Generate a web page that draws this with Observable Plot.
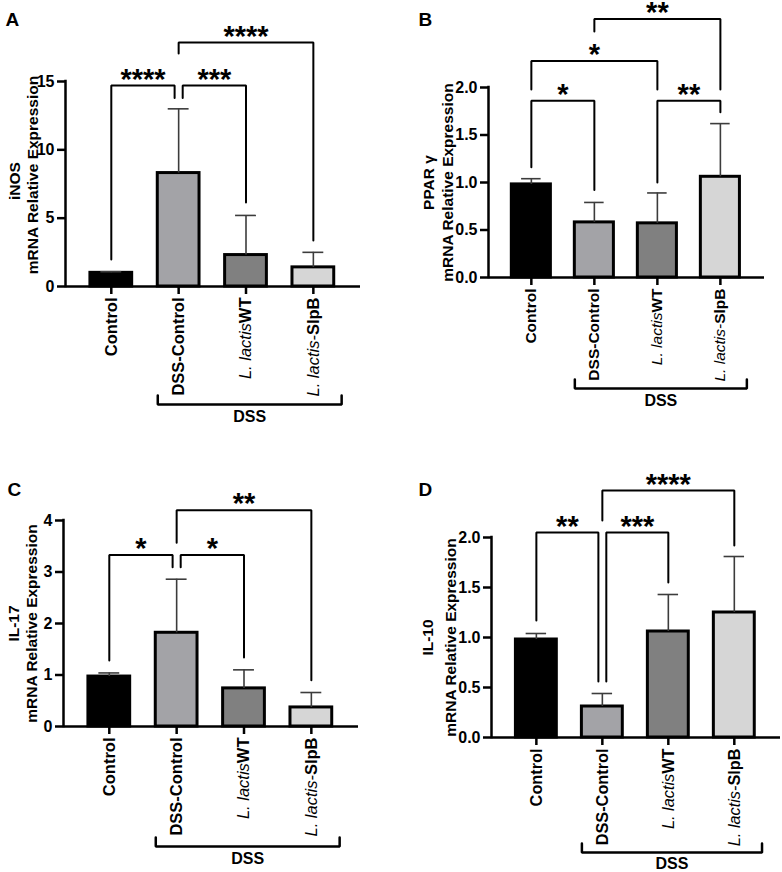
<!DOCTYPE html>
<html><head><meta charset="utf-8">
<script src="https://cdn.jsdelivr.net/npm/d3@7"></script>
<script src="https://cdn.jsdelivr.net/npm/@observablehq/plot@0.6"></script>
<style>
body{margin:0;background:#fff}
#wrap{position:relative;width:782px;height:872px;overflow:hidden;background:#fff}
#wrap svg{position:absolute;overflow:visible}
</style></head><body><div id="wrap"></div>
<script>
// ---- data ----
const groups = ["Control", "DSS-Control", "L. lactisWT", "L. lactis-SlpB"];
const dssGroups = ["DSS-Control", "L. lactisWT", "L. lactis-SlpB"];
const barFills = ["#000000", "#a3a3a7", "#808080", "#d6d6d6"];

const inosMean = [1.0, 8.3, 2.3, 1.4];
const inosSD   = [0.08, 4.7, 2.9, 1.1];
const pparMean = [0.98, 0.58, 0.57, 1.06];
const pparSD   = [0.06, 0.21, 0.32, 0.56];
const il17Mean = [0.97, 1.82, 0.74, 0.37];
const il17SD   = [0.07, 1.04, 0.36, 0.29];
const il10Mean = [0.98, 0.31, 1.06, 1.25];
const il10SD   = [0.06, 0.13, 0.37, 0.56];

const inosTicks = [0, 5, 10, 15];
const pparTicks = [0, 0.5, 1, 1.5, 2];
const il17Ticks = [0, 1, 2, 3, 4];
const il10Ticks = [0, 0.5, 1, 1.5, 2];

const inosSig = [
  {from: "Control", to: "DSS-Control", y: 14.7, legFrom: 1.98, legTo: 13.8, label: "****"},
  {from: "DSS-Control", to: "L. lactisWT", y: 14.7, legFrom: 13.8, legTo: 6.15, label: "***"},
  {from: "DSS-Control", to: "L. lactis-SlpB", y: 17.85, legFrom: 17.05, legTo: 3.36, label: "****"}
];
const pparSig = [
  {from: "Control", to: "DSS-Control", y: 1.86, legFrom: 1.16, legTo: 0.92, label: "*"},
  {from: "L. lactisWT", to: "L. lactis-SlpB", y: 1.86, legFrom: 1.0, legTo: 1.74, label: "**"},
  {from: "Control", to: "L. lactisWT", y: 2.28, legFrom: 1.98, legTo: 1.98, label: "*"},
  {from: "DSS-Control", to: "L. lactis-SlpB", y: 2.72, legFrom: 2.59, legTo: 1.98, label: "**"}
];
const il17Sig = [
  {from: "Control", to: "DSS-Control", y: 3.33, legFrom: 1.28, legTo: 3.09, label: "*"},
  {from: "DSS-Control", to: "L. lactisWT", y: 3.33, legFrom: 3.09, legTo: 1.34, label: "*"},
  {from: "DSS-Control", to: "L. lactis-SlpB", y: 4.2, legFrom: 3.57, legTo: 0.9, label: "**"}
];
const il10Sig = [
  {from: "Control", to: "DSS-Control", y: 2.05, legFrom: 1.17, legTo: 0.56, label: "**"},
  {from: "DSS-Control", to: "L. lactisWT", y: 2.05, legFrom: 0.56, legTo: 1.55, label: "***"},
  {from: "DSS-Control", to: "L. lactis-SlpB", y: 2.47, legFrom: 2.17, legTo: 1.92, label: "****"}
];

// ---- layout ----
const FONT = "'Liberation Sans', Arial, Helvetica, sans-serif";
const panels = [
  {letter: "A", gene: "iNOS", mean: inosMean, sd: inosSD, ticks: inosTicks, fmt: d3.format("d"), sig: inosSig,
   left: 0, top: 0, width: 391, height: 430, mt: 81, mb: 144, ml: 65, mr: 31, xFont: 16.5,
   geneDx: -50, geneDy: -3, mrnaDx: -32, mrnaDy: -9, letterDx: -60, letterDy: -69, dssDy: 118, dssTextDy: 12},
  {letter: "B", gene: "PPAR γ", mean: pparMean, sd: pparSD, ticks: pparTicks, fmt: d3.format(".1f"), sig: pparSig,
   left: 391, top: 0, width: 391, height: 430, mt: 87, mb: 153, ml: 97, mr: 18, xFont: 15.5,
   geneDx: -59, geneDy: 0, mrnaDx: -40, mrnaDy: 0, letterDx: -70, letterDy: -75, dssDy: 111, dssTextDy: 12},
  {letter: "C", gene: "IL-17", mean: il17Mean, sd: il17SD, ticks: il17Ticks, fmt: d3.format("d"), sig: il17Sig,
   left: 0, top: 430, width: 391, height: 442, mt: 90, mb: 146, ml: 63, mr: 33, xFont: 16.5,
   geneDx: -49, geneDy: 0, mrnaDx: -31, mrnaDy: 0, letterDx: -56, letterDy: -38, dssDy: 120, dssTextDy: 12},
  {letter: "D", gene: "IL-10", mean: il10Mean, sd: il10SD, ticks: il10Ticks, fmt: d3.format(".1f"), sig: il10Sig,
   left: 391, top: 430, width: 391, height: 442, mt: 107, mb: 135, ml: 100, mr: 2, xFont: 16.3,
   geneDx: -63, geneDy: 0, mrnaDx: -40, mrnaDy: 0, letterDx: -73, letterDy: -55, dssDy: 115, dssTextDy: 11}
];

const X_DOMAIN = [-0.68, 3.7];
const HALF_BAR = 0.31, HALF_CAP = 0.155, NUDGE = 0.06;

function bracketGeometry(sig) {
  const lines = [], labels = [];
  sig.forEach((b, k) => {
    const i = groups.indexOf(b.from), j = groups.indexOf(b.to);
    let ni = 0, nj = 0;
    sig.forEach((o, m) => {
      if (m === k || o.y !== b.y) return;
      if (groups.indexOf(o.to) === i) ni = NUDGE;
      if (groups.indexOf(o.from) === j) nj = -NUDGE;
    });
    const x1 = i + ni, x2 = j + nj;
    lines.push({k, x: x1, y: b.legFrom}, {k, x: x1, y: b.y}, {k, x: x2, y: b.y}, {k, x: x2, y: b.legTo});
    labels.push({x: (x1 + x2) / 2, y: b.y, label: b.label});
  });
  return {lines, labels};
}

const wrap = document.getElementById("wrap");
const ns = "http://www.w3.org/2000/svg";

for (const p of panels) {
  const rows = groups.map((g, i) => ({g, i, mean: p.mean[i], sd: p.sd[i], fill: barFills[i]}));
  const yMax = d3.max(p.ticks);
  const pxPerUnit = (p.height - p.mt - p.mb) / yMax;
  const {lines, labels} = bracketGeometry(p.sig);
  const dssIdx = dssGroups.map(g => groups.indexOf(g));
  const s = d3.min(dssIdx) - HALF_BAR, e = d3.max(dssIdx) + 0.42;
  const up = 9 / pxPerUnit;
  const dssLine = [{x: s, y: up}, {x: s, y: 0}, {x: e, y: 0}, {x: e, y: up}];

  const svg = Plot.plot({
    width: p.width, height: p.height,
    marginTop: p.mt, marginBottom: p.mb, marginLeft: p.ml, marginRight: p.mr,
    style: {fontFamily: FONT, fontWeight: "bold", fontSize: "16px", color: "#000", background: "transparent", overflow: "visible"},
    x: {type: "linear", domain: X_DOMAIN},
    y: {type: "linear", domain: [0, yMax]},
    color: {type: "identity"},
    marks: [
      Plot.ruleX([X_DOMAIN[0]], {y1: 0, y2: yMax, stroke: "#000", strokeWidth: 2.5, strokeLinecap: "square"}),
      Plot.axisY({ticks: p.ticks, tickFormat: p.fmt, tickSize: 8, tickPadding: 3, strokeWidth: 2.5, fontSize: 16, label: null, fill: "#000"}),
      Plot.axisX({ticks: [0, 1, 2, 3], tickFormat: i => groups[i], tickRotate: -90, tickSize: 8, tickPadding: 3,
                  strokeWidth: 2.5, fontSize: p.xFont, label: null, fill: "#000"}),
      Plot.rectY(rows, {x1: d => d.i - HALF_BAR, x2: d => d.i + HALF_BAR, y1: 0, y2: "mean", fill: "fill", stroke: "#000", strokeWidth: 3}),
      Plot.ruleY([0], {stroke: "#000", strokeWidth: 2.5}),
      Plot.ruleX(rows, {x: "i", y1: "mean", y2: d => d.mean + d.sd, stroke: "#3c3c3c", strokeWidth: 1.6}),
      Plot.ruleY(rows, {y: d => d.mean + d.sd, x1: d => d.i - HALF_CAP, x2: d => d.i + HALF_CAP, stroke: "#3c3c3c", strokeWidth: 1.6}),
      Plot.line(lines, {x: "x", y: "y", z: "k", stroke: "#000", strokeWidth: 2, strokeLinejoin: "miter"}),
      Plot.text(labels, {x: "x", y: "y", text: "label", fontSize: 29, fontWeight: "bold", lineAnchor: "bottom", dy: 3, fill: "#000"}),
      Plot.line(dssLine, {x: "x", y: "y", dy: p.dssDy, stroke: "#000", strokeWidth: 2.5, strokeLinejoin: "miter"}),
      Plot.text(["DSS"], {x: (s + e) / 2, y: 0, dy: p.dssDy + p.dssTextDy, text: d => d, lineAnchor: "middle", fontSize: 16, fontWeight: "bold", fill: "#000"}),
      Plot.text([p.gene], {frameAnchor: "left", text: d => d, dx: p.geneDx, dy: p.geneDy, rotate: -90, textAnchor: "middle", lineAnchor: "middle", fontSize: 15.5, fontWeight: "bold", fill: "#000"}),
      Plot.text(["mRNA Relative Expression"], {frameAnchor: "left", text: d => d, dx: p.mrnaDx, dy: p.mrnaDy, rotate: -90, textAnchor: "middle", lineAnchor: "middle", fontSize: 15.5, fontWeight: "bold", fill: "#000"}),
      Plot.text([p.letter], {frameAnchor: "top-left", text: d => d, dx: p.letterDx, dy: p.letterDy, textAnchor: "start", lineAnchor: "top", fontSize: 19, fontWeight: "bold", fill: "#000"})
    ]
  });
  svg.style.left = p.left + "px";
  svg.style.top = p.top + "px";

  // italicise the species names in tick labels
  svg.querySelectorAll("text").forEach(t => {
    const str = t.textContent;
    if (!str.startsWith("L. lactis")) return;
    let ital = "L. lactis", rest = str.slice(9);
    if (rest.startsWith("-")) { ital += "-"; rest = rest.slice(1); }
    t.textContent = "";
    const a = document.createElementNS(ns, "tspan");
    a.setAttribute("font-style", "italic");
    a.setAttribute("font-weight", "normal");
    a.textContent = ital;
    const b = document.createElementNS(ns, "tspan");
    b.setAttribute("font-weight", "bold");
    b.textContent = rest;
    t.appendChild(a); t.appendChild(b);
  });
  wrap.appendChild(svg);
}
</script></body></html>
